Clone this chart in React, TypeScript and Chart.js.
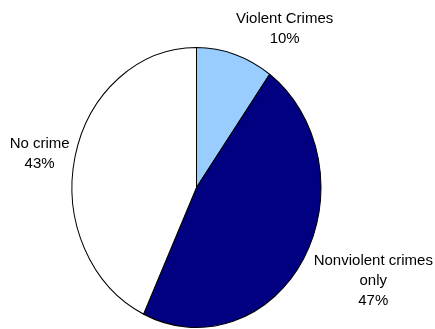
import React, { useEffect, useRef } from "react";
import { Chart, registerables } from "chart.js";

Chart.register(...registerables);

const categories = ["Violent Crimes", "Nonviolent crimes only", "No crime"];
const labelLines = [["Violent Crimes", "10%"], ["Nonviolent crimes", "only", "47%"], ["No crime", "43%"]];
const values = [10, 47, 43];
const colors = ["#99CCFF", "#000080", "#FFFFFF"];
// label anchor offsets relative to pie centre, in units of the horizontal radius
const labelOffsetX = [0.708, 1.42, -1.26];
const labelOffsetY = [-1.318, 0.62, -0.32];

const Y_STRETCH = 140.5 / 125;

const ellipsePlugin = {
  id: "ellipse",
  beforeDatasetsDraw(chart: any) {
    const arc = chart.getDatasetMeta(0).data[0];
    const ctx = chart.ctx;
    ctx.save();
    ctx.translate(arc.x, arc.y);
    ctx.scale(1, Y_STRETCH);
    ctx.translate(-arc.x, -arc.y);
  },
  afterDatasetsDraw(chart: any) {
    chart.ctx.restore();
  },
};

const labelPlugin = {
  id: "pieLabels",
  afterDraw(chart: any) {
    const meta = chart.getDatasetMeta(0);
    const arc = meta.data[0];
    const r = arc.outerRadius;
    const ctx = chart.ctx;
    ctx.save();
    ctx.fillStyle = "#000";
    ctx.font = "15px 'Liberation Sans', Arial, sans-serif";
    ctx.textAlign = "center";
    ctx.textBaseline = "alphabetic";
    labelLines.forEach((lines, i) => {
      const x = arc.x + labelOffsetX[i] * r;
      const y = arc.y + labelOffsetY[i] * r;
      lines.forEach((t, j) => ctx.fillText(t, x, y + j * 20));
    });
    ctx.restore();
  },
};

export default function App() {
  const ref = useRef<HTMLCanvasElement>(null);
  useEffect(() => {
    document.body.style.margin = "0";
    const chart = new Chart(ref.current!, {
      type: "pie",
      data: {
        labels: categories,
        datasets: [
          {
            data: values,
            backgroundColor: colors,
            borderColor: "#000",
            borderWidth: 1,
            hoverOffset: 0,
          },
        ],
      },
      options: {
        animation: false,
        responsive: false,
        events: [],
        layout: { padding: { left: 71.5, right: 113.5, top: 62.5, bottom: 16.5 } },
        plugins: { legend: { display: false }, tooltip: { enabled: false } },
      },
      plugins: [ellipsePlugin, labelPlugin],
    });
    return () => chart.destroy();
  }, []);
  return (
    <div style={{ width: 435, height: 329, background: "#fff" }}>
      <canvas ref={ref} width={435} height={329} style={{ display: "block" }} />
    </div>
  );
}
